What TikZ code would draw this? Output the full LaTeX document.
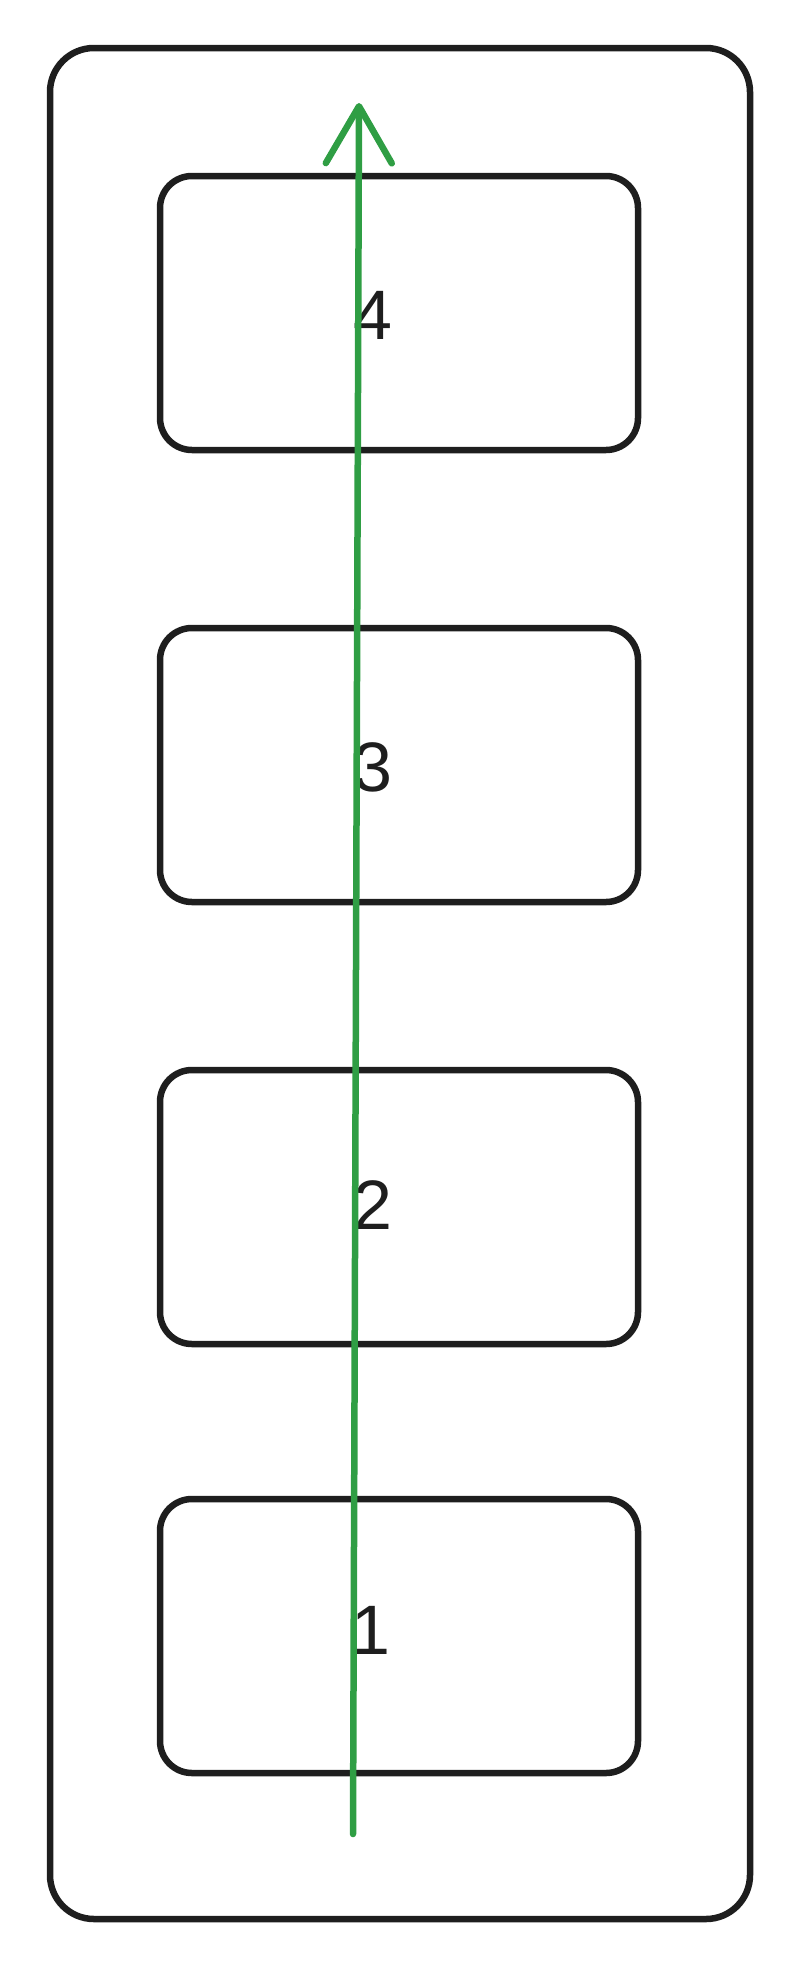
\documentclass[tikz,border=0pt]{standalone}
\usetikzlibrary{arrows.meta}
\usepackage{fontspec}
\setmainfont{Liberation Sans}
\definecolor{ink}{HTML}{1E1E1E}
\definecolor{flow}{HTML}{2F9E44}
\begin{document}
\begin{tikzpicture}[x=1pt,y=-1pt,
  outerbox/.style={draw=ink,line width=6.5pt,rounded corners=44pt},
  slot/.style={draw=ink,line width=6.5pt,rounded corners=32pt,minimum width=478pt,minimum height=274pt,inner sep=0pt},
  num/.style={text=ink,font=\fontsize{70}{80}\selectfont,inner sep=0pt},
  flowarrow/.style={draw=flow,line width=6.5pt,line cap=round,-{Straight Barb[length=57pt,width=66pt,line width=6.5pt,round]}}]
\useasboundingbox (0,0) rectangle (800,1970);
\draw[outerbox] (50,48) rectangle (750,1919);
\node[slot] (b4) at (399,313) {};
\node[slot] (b3) at (399,765) {};
\node[slot] (b2) at (399,1207) {};
\node[slot] (b1) at (399,1636) {};
\node[num] (l4) at (373,315) {4};
\node[num] (l3) at (373,767) {3};
\node[num] (l2) at (373,1205) {2};
\node[num] (l1) at (371,1630) {1};
\coordinate (start) at (353,1834);
\coordinate (tip) at (359,103);
\draw[flowarrow] (start) -- (tip);
\end{tikzpicture}
\end{document}
